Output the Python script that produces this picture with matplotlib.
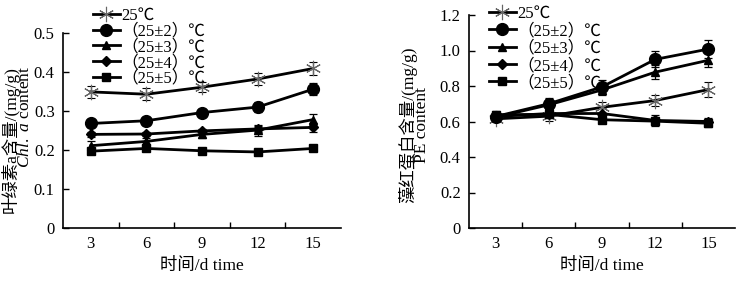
import numpy as np
import matplotlib.pyplot as plt
from matplotlib.lines import Line2D

plt.rcParams['font.family'] = ['Liberation Serif', 'Noto Sans CJK SC']
plt.rcParams['axes.unicode_minus'] = False
plt.rcParams['mathtext.fontset'] = 'custom'
plt.rcParams['mathtext.it'] = 'Liberation Serif:italic'
plt.rcParams['mathtext.rm'] = 'Liberation Serif'

days = [3, 6, 9, 12, 15]
labels = ['25℃', '（25±2）℃', '（25±3）℃', '（25±4）℃', '（25±5）℃']

# 叶绿素a含量 (mg/g)
chl_mean = [
    [0.349, 0.343, 0.361, 0.382, 0.409],
    [0.268, 0.275, 0.296, 0.310, 0.356],
    [0.211, 0.222, 0.240, 0.251, 0.278],
    [0.240, 0.241, 0.249, 0.254, 0.258],
    [0.197, 0.204, 0.198, 0.195, 0.204],
]
chl_err = [
    [0.015, 0.015, 0.013, 0.015, 0.016],
    [0.010, 0.010, 0.010, 0.012, 0.015],
    [0.013, 0.008, 0.010, 0.014, 0.015],
    [0.007, 0.005, 0.005, 0.008, 0.012],
    [0.006, 0.006, 0.005, 0.005, 0.006],
]

# 藻红蛋白含量 (mg/g)
pe_mean = [
    [0.615, 0.630, 0.680, 0.718, 0.780],
    [0.628, 0.700, 0.795, 0.950, 1.008],
    [0.624, 0.694, 0.778, 0.878, 0.945],
    [0.628, 0.645, 0.645, 0.606, 0.600],
    [0.638, 0.640, 0.610, 0.602, 0.590],
]
pe_err = [
    [0.020, 0.025, 0.030, 0.030, 0.040],
    [0.020, 0.030, 0.040, 0.045, 0.050],
    [0.020, 0.030, 0.030, 0.040, 0.040],
    [0.020, 0.020, 0.030, 0.030, 0.020],
    [0.020, 0.020, 0.020, 0.020, 0.020],
]

styles = [
    dict(marker=(6, 2, 0), ms=11, mec='#666666', mew=0.8, mfc='none'),
    dict(marker='o', ms=8.5, mec='black', mfc='black'),
    dict(marker='^', ms=6, mec='black', mfc='black'),
    dict(marker='D', ms=5, mec='black', mfc='black'),
    dict(marker='s', ms=6, mec='black', mfc='black'),
]

W, H = 754, 284
fig = plt.figure(figsize=(W / 100, H / 100), dpi=100)
ax1 = fig.add_axes([63 / W, 1 - 228 / H, (341 - 63) / W, (228 - 33) / H])
ax2 = fig.add_axes([469 / W, 1 - 228 / H, (735 - 469) / W, (228 - 15) / H])


def draw(ax, means, errs, yticks, yticklabels, legend_xy, spacing):
    for m, e, st in zip(means, errs, styles):
        ax.errorbar(days, m, yerr=e, color='black', lw=2, ecolor='black',
                    elinewidth=0.9, capsize=3, capthick=0.9, **st)
    handles = [Line2D([], [], color='black', lw=2, **st) for st in styles]
    ax.set_xlim(1.5, 16.5)
    ax.set_ylim(0, yticks[-1])
    ax.set_xticks(days)
    ax.set_xticks([4.5, 7.5, 10.5, 13.5], minor=True)
    ax.tick_params(axis='x', which='major', length=0, labelsize=12, pad=6)
    ax.tick_params(axis='x', which='minor', direction='in', length=4, width=1)
    ax.set_yticks(yticks)
    ax.set_yticklabels(yticklabels)
    ax.tick_params(axis='y', direction='in', length=4, width=1, labelsize=12, pad=6)
    for s in ['top', 'right']:
        ax.spines[s].set_visible(False)
    for s in ['left', 'bottom']:
        ax.spines[s].set_linewidth(1.2)
    ax.set_xlabel('时间/d time', fontsize=12.5, labelpad=4)
    ax.legend(handles, labels, loc='upper left',
              bbox_to_anchor=(legend_xy[0] / W, 1 - legend_xy[1] / H),
              bbox_transform=fig.transFigure, frameon=False, fontsize=12,
              handlelength=1.6, handletextpad=0.1, labelspacing=spacing,
              borderpad=0, borderaxespad=0)


draw(ax1, chl_mean, chl_err, [0, 0.1, 0.2, 0.3, 0.4, 0.5],
     ['0', '0.1', '0.2', '0.3', '0.4', '0.5'], (93, 8), -0.02)
draw(ax2, pe_mean, pe_err, [0, 0.2, 0.4, 0.6, 0.8, 1.0, 1.2],
     ['0', '0.2', '0.4', '0.6', '0.8', '1.0', '1.2'], (489, 6), 0.08)

fig.text(17 / W, 1 - 66 / H, '叶绿素a含量/(mg/g)\n$Chl.$ $a$ content', rotation=90,
         ha='center', va='top', multialignment='right', linespacing=0.8, fontsize=12.5)
fig.text(414 / W, 1 - 125 / H, '藻红蛋白含量/(mg/g)\nPE content', rotation=90,
         ha='center', va='center', multialignment='center', linespacing=0.8, fontsize=12.5)

fig.savefig('out.png', dpi=100)
